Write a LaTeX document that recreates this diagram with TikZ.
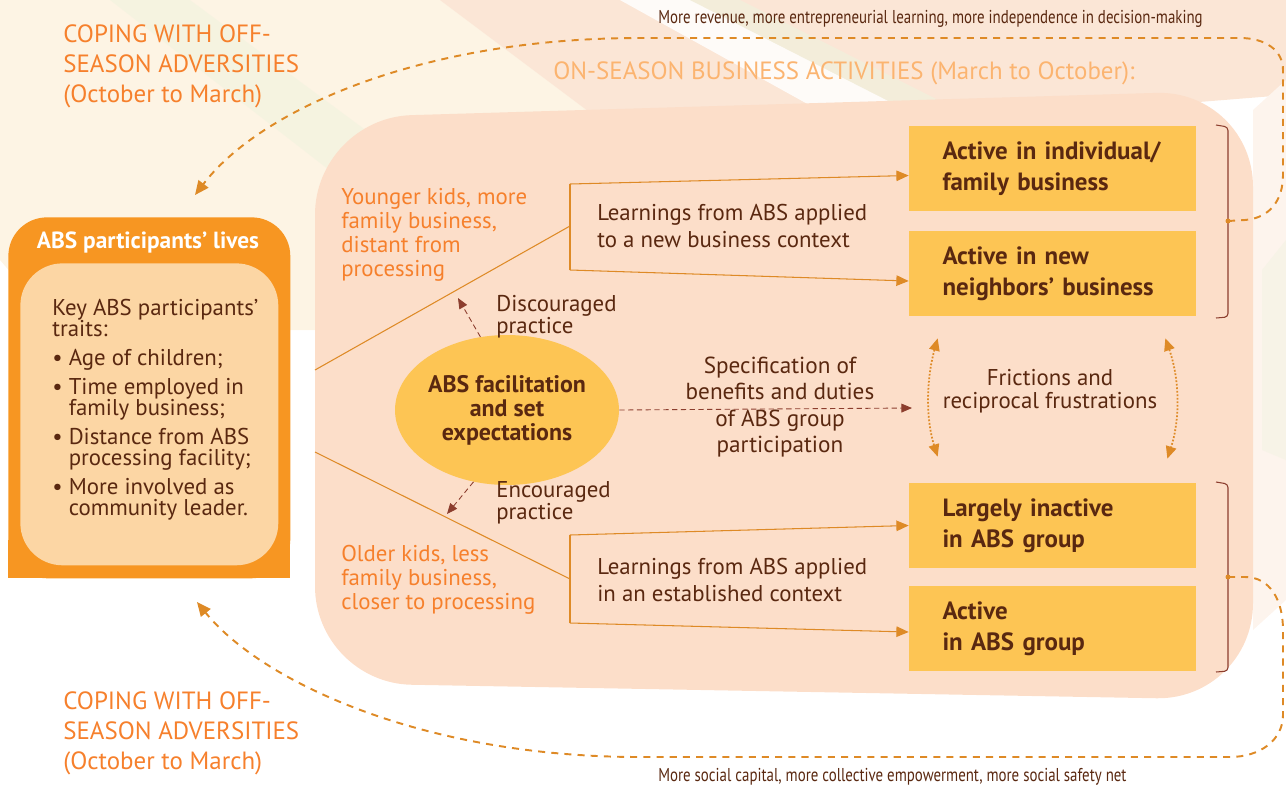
\documentclass[tikz,border=0pt]{standalone}
\usepackage{fontspec}
\setmainfont{PT Sans}
\newfontfamily\narrowfont[FakeStretch=0.8]{PT Sans}
\usetikzlibrary{arrows.meta, shapes.geometric, calc}
\definecolor{peach}{RGB}{252,222,201}
\definecolor{sunny}{RGB}{253,197,84}
\definecolor{tangerine}{RGB}{247,150,34}
\definecolor{cream}{RGB}{252,214,164}
\definecolor{cocoa}{RGB}{90,40,16}
\definecolor{rust}{RGB}{140,62,46}
\definecolor{amber}{RGB}{222,138,38}
\definecolor{coral}{RGB}{246,128,44}
\definecolor{apricot}{RGB}{251,180,112}
\definecolor{wash}{RGB}{253,244,228}
\definecolor{blush}{RGB}{251,230,214}
\definecolor{sage}{RGB}{238,243,222}

\begin{document}
\begin{tikzpicture}[
    x=0.02cm, y=-0.02cm,
    body/.style={inner sep=0pt, anchor=west, align=left, text=cocoa, font=\fontsize{13}{15}\selectfont},
    season/.style={inner sep=0pt, anchor=west, align=left, text=coral, font=\fontsize{14.2}{17}\selectfont},
    kids/.style={inner sep=0pt, anchor=west, align=left, text=coral, font=\fontsize{13}{13.6}\selectfont},
    gain/.style={inner sep=0pt, anchor=west, text=cocoa, font=\narrowfont\fontsize{10.6}{12}\selectfont},
    outcome/.style={rectangle, fill=sunny, minimum width=5.74cm, minimum height=1.7cm, text width=4.4cm, inner xsep=0.67cm, align=left, text=cocoa, font=\bfseries\fontsize{14.2}{17.6}\selectfont},
    fork/.style={amber, line width=0.6pt},
    feed/.style={-{Triangle[length=7pt, width=6pt]}, amber, line width=0.6pt},
    nudge/.style={-{Triangle[length=6pt, width=5pt]}, rust, densely dashed, line width=0.5pt},
    friction/.style={{Triangle[length=7pt, width=6pt]}-{Triangle[length=7pt, width=6pt]}, amber, densely dotted, line width=1pt},
    loop/.style={-{Triangle[length=8pt, width=7pt]}, amber, dash pattern=on 4pt off 3.5pt, line width=1.1pt},
    brace/.style={rust, line width=0.6pt, rounded corners=2pt}
  ]
  \useasboundingbox (0,0) rectangle (1286,789);

  % watercolour wash behind everything
  \fill[wash] (0,0) -- (520,0) -- (760,150) -- (420,330) -- (60,330) -- (0,260) -- cycle;
  \fill[sage, opacity=0.5] (110,0) -- (190,0) -- (460,200) -- (400,225) -- cycle;
  \fill[blush] (440,0) -- (1286,0) -- (1286,95) -- (1000,118) -- (640,150) -- cycle;
  \fill[white, opacity=0.85] (620,0) -- (690,0) -- (910,112) -- (840,122) -- cycle;
  \fill[sage, opacity=0.6] (690,0) -- (740,0) -- (950,106) -- (910,112) -- cycle;
  \fill[blush!45] (1253,110) -- (1286,80) -- (1286,600) -- (1253,630) -- cycle;
  \fill[sage, opacity=0.4] (1262,270) -- (1286,240) -- (1286,460) -- (1262,450) -- cycle;

  % season panel
  \fill[peach, rounded corners=55] (315,118) -- (1253,90) -- (1253,700) -- (315,683) -- cycle;

  % participants box
  \node[fill=tangerine, rounded corners=22, minimum width=5.64cm, minimum height=7.22cm, anchor=north west, inner sep=0pt] (lives) at (8,217) {};
  \fill[tangerine] (8,540) rectangle (290,578);
  \node[inner sep=0pt, text=white, font=\bfseries\fontsize{13.3}{15}\selectfont] (livestitle) at (148,242) {ABS participants' lives};
  \node[fill=cream, rounded corners=24, minimum width=5.16cm, minimum height=6.04cm, anchor=north west, inner sep=0pt] (traitbox) at (20,263) {};
  \node[body, font=\fontsize{13}{12}\selectfont] (traits) at (52,410) {Key ABS participants'\\traits:\\[4.5pt]
    • Age of children;\\[4.5pt]
    • Time employed in\\\hphantom{• }family business;\\[4.5pt]
    • Distance from ABS\\\hphantom{• }processing facility;\\[4.5pt]
    • More involved as\\\hphantom{• }community leader.};

  % seasonal headings
  \node[season] (copingtop) at (63,66) {COPING WITH OFF-\\SEASON ADVERSITIES\\(October to March)};
  \node[season] (copingbot) at (63,733) {COPING WITH OFF-\\SEASON ADVERSITIES\\(October to March)};
  \node[season, text=apricot] (onseason) at (553,73) {ON-SEASON BUSINESS ACTIVITIES (March to October):};
  \node[gain] (gainup) at (658,19) {More revenue, more entrepreneurial learning, more independence in decision-making};
  \node[gain] (gaindown) at (658,777) {More social capital, more collective empowerment, more social safety net};

  % outcomes
  \node[outcome] (indiv) at (1052.5,168.5) {Active in individual/\\family business};
  \node[outcome] (neigh) at (1052.5,273.5) {Active in new\\neighbors' business};
  \node[outcome] (inactive) at (1052.5,525.5) {Largely inactive\\in ABS group};
  \node[outcome] (active) at (1052.5,628.5) {Active\\in ABS group};

  % facilitation
  \node[ellipse, fill=sunny, minimum width=4.48cm, minimum height=3cm, inner sep=0pt, align=center, text=cocoa, font=\bfseries\fontsize{13.6}{13.6}\selectfont] (facil) at (507,410) {ABS facilitation\\and set\\expectations};

  % side texts
  \node[kids] (younger) at (341,235) {Younger kids, more\\family business,\\distant from\\processing};
  \node[kids] (older) at (341,580) {Older kids, less\\family business,\\closer to processing};
  \node[body, font=\fontsize{13}{15}\selectfont] (learnnew) at (597,226) {Learnings from ABS applied\\to a new business context};
  \node[body, font=\fontsize{13}{15}\selectfont] (learnold) at (597,580) {Learnings from ABS applied\\in an established context};
  \node[body, font=\fontsize{13}{12.5}\selectfont] (discour) at (496,317) {Discouraged\\practice};
  \node[body, font=\fontsize{13}{12.5}\selectfont] (encour) at (496,503) {Encouraged\\practice};
  \node[body, anchor=center, align=center, font=\fontsize{13.2}{15}\selectfont] (spec) at (780,407) {Specification of\\benefits and duties\\of ABS group\\participation};
  \node[body, anchor=center, align=center, font=\fontsize{13}{13}\selectfont] (frict) at (1050,391) {Frictions and\\reciprocal frustrations};

  % forks towards the outcomes
  \coordinate (forkup) at (315,370);
  \coordinate (forkdown) at (315,452);
  \coordinate (upjoin) at (570,226);
  \coordinate (downjoin) at (570,579);
  \draw[fork] (forkup) -- (upjoin);
  \draw[fork] (forkdown) -- (downjoin);
  \draw[fork] (570,184) -- (570,270);
  \draw[fork] (570,535) -- (570,623);
  \draw[feed] (570,184) -- ([yshift=-0.14cm]indiv.west);
  \draw[feed] (570,270) -- ([yshift=-0.15cm]neigh.west);
  \draw[feed] (570,535) -- (inactive.west);
  \draw[feed] (570,623) -- ([yshift=-0.07cm]active.west);

  % practice arrows
  \coordinate (discourend) at (458,298);
  \coordinate (encourend) at (447,514);
  \coordinate (specend) at (912,408);
  \draw[nudge] (facil.110) -- (discourend);
  \draw[nudge] (facil.245) -- (encourend);
  \draw[nudge] (facil.east) -- (specend);

  % frictions between the two groups
  \draw[friction] ([xshift=0.58cm, yshift=-0.44cm]neigh.south west) .. controls (926,380) and (926,420) .. ([xshift=0.58cm, yshift=0.52cm]inactive.north west);
  \draw[friction] ([xshift=-0.62cm, yshift=-0.44cm]neigh.south east) .. controls (1180,380) and (1180,420) .. ([xshift=-0.58cm, yshift=0.48cm]inactive.north east);

  % brackets
  \draw[brace] (1216,125) -- (1228,127) -- (1228,317) -- (1216,318);
  \draw[brace] (1216,482) -- (1228,484) -- (1228,671) -- (1216,672);
  \coordinate (upbrace) at (1228,221);
  \coordinate (downbrace) at (1228,577);
  \fill[amber] (upbrace) circle (2.5);
  \fill[amber] (downbrace) circle (2.5);

  % off-season loops
  \draw[loop] (upbrace) -- (1245,220) .. controls (1270,218) and (1283,200) .. (1283,175) -- (1283,70) .. controls (1283,50) and (1265,38) .. (1240,38) -- (640,38) .. controls (420,38) and (260,110) .. (195,195);
  \draw[loop] (downbrace) -- (1245,577) .. controls (1270,577) and (1283,600) .. (1283,630) -- (1283,715) .. controls (1283,740) and (1260,757) .. (1230,757) -- (640,757) .. controls (420,757) and (260,680) .. (197,602);
\end{tikzpicture}
\end{document}
